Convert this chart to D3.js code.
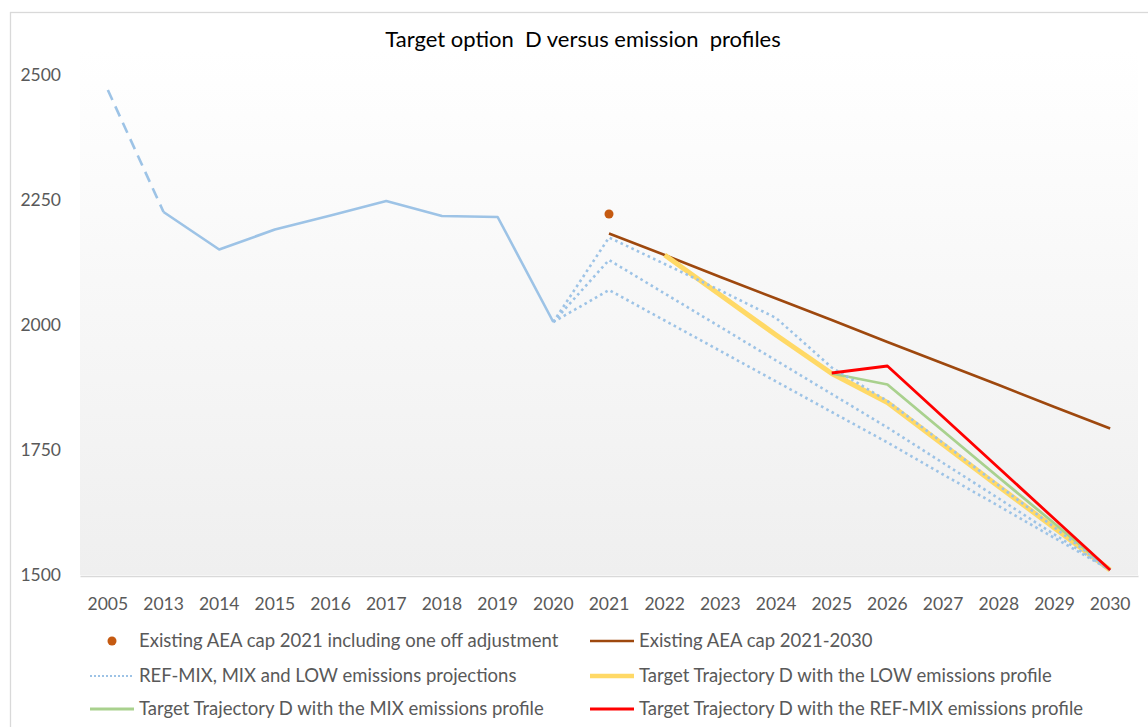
<!DOCTYPE html>
<html>
<head>
<meta charset="utf-8">
<script src="https://cdn.jsdelivr.net/npm/d3@7"></script>
<style>
  body { margin: 0; background: #fff; }
  svg text { font-family: Lato, 'Open Sans', sans-serif; }
</style>
</head>
<body>
<div class="container"></div>
<script>
const categories = ['2005', '2013', '2014', '2015', '2016', '2017', '2018', '2019', '2020',
  '2021', '2022', '2023', '2024', '2025', '2026', '2027', '2028', '2029', '2030'];
const yTicks = [1500, 1750, 2000, 2250, 2500];

// historical emissions (2005 joined to 2013 with a dashed segment)
const historical = [2470, 2226, 2151, 2191, 2219, 2248, 2218, 2216, 2006,
  null, null, null, null, null, null, null, null, null, null];
// projections
const refMix = [null, null, null, null, null, null, null, null, 2006,
  2175, 2122, 2069, 2014, 1915, 1848, 1764, 1679, 1595, 1510];
const mix = [null, null, null, null, null, null, null, null, 2006,
  2130, 2063, 1996, 1929, 1862, 1795, 1724, 1653, 1581, 1510];
const low = [null, null, null, null, null, null, null, null, 2006,
  2070, 2009, 1948, 1887, 1826, 1765, 1701, 1638, 1574, 1510];
const aeaAdj = [null, null, null, null, null, null, null, null, null,
  2222, null, null, null, null, null, null, null, null, null];
const aeaCap = [null, null, null, null, null, null, null, null, null,
  2183, 2140, 2096, 2053, 2010, 1966, 1923, 1880, 1836, 1793];
const trajLow = [null, null, null, null, null, null, null, null, null,
  null, 2140, 2060, 1980, 1903, 1845, 1761, 1677, 1594, 1510];
const trajMix = [null, null, null, null, null, null, null, null, null,
  null, null, null, null, 1903, 1881, 1788, 1695, 1603, 1510];
const trajRefMix = [null, null, null, null, null, null, null, null, null,
  null, null, null, null, 1904, 1918, 1816, 1714, 1612, 1510];

const width = 1148;
const height = 727;
const plot = { left: 80, right: 1138, top: 50, bottom: 575 };

const svg = d3.select('.container')
  .append('svg')
  .attr('width', width)
  .attr('height', height);

// chart border
svg.append('rect')
  .attr('x', 10.5).attr('y', 12.5)
  .attr('width', 1200).attr('height', 800)
  .attr('fill', '#fff')
  .attr('stroke', '#d9d9d9')
  .attr('stroke-width', 1.3);

// plot area gradient
const grad = svg.append('defs').append('linearGradient')
  .attr('id', 'plotFill')
  .attr('x1', 0).attr('y1', 0).attr('x2', 0).attr('y2', 1);
grad.append('stop').attr('offset', '0%').attr('stop-color', '#ffffff');
grad.append('stop').attr('offset', '100%').attr('stop-color', '#efefef');

svg.append('rect')
  .attr('x', plot.left).attr('y', plot.top)
  .attr('width', plot.right - plot.left)
  .attr('height', plot.bottom - plot.top)
  .attr('fill', 'url(#plotFill)');

// scales
const xScale = d3.scaleBand()
  .domain(categories)
  .range([plot.left, plot.right]);
const xc = c => xScale(c) + xScale.bandwidth() / 2;

const yScale = d3.scaleLinear()
  .domain([1500, 2500])
  .range([575, 75]);

// axes
const xAxis = svg.append('g')
  .attr('transform', `translate(0, ${plot.bottom + 1})`)
  .call(d3.axisBottom(xScale).tickSize(0).tickSizeOuter(0).tickPadding(22));
xAxis.select('.domain').attr('stroke', '#d9d9d9').attr('stroke-width', 1.5);
xAxis.selectAll('text').attr('font-size', 17.5).attr('fill', '#595959');

const yAxis = svg.append('g')
  .attr('transform', `translate(${plot.left}, 0)`)
  .call(d3.axisLeft(yScale).tickValues(yTicks).tickSize(0).tickPadding(19)
    .tickFormat(d3.format('d')));
yAxis.select('.domain').remove();
yAxis.selectAll('text').attr('font-size', 17.5).attr('fill', '#595959');

// title
svg.append('text')
  .attr('x', 583).attr('y', 47)
  .attr('text-anchor', 'middle')
  .attr('font-size', 22)
  .attr('fill', '#000')
  .style('white-space', 'pre')
  .text('Target option  D versus emission  profiles');

const line = d3.line()
  .defined(d => d.v !== null)
  .x(d => xc(d.c))
  .y(d => yScale(d.v));
const toPts = arr => arr.map((v, i) => ({ c: categories[i], v: v }));

function drawLine(arr, color, w, dash) {
  svg.append('path')
    .datum(toPts(arr))
    .attr('d', line)
    .attr('fill', 'none')
    .attr('stroke', color)
    .attr('stroke-width', w)
    .attr('stroke-linejoin', 'round')
    .attr('stroke-dasharray', dash || null);
}

const blue = '#9dc3e6';
drawLine(aeaCap, '#9e480e', 2.6);
drawLine(trajLow, '#ffd966', 5);
drawLine(trajMix, '#a9d18e', 2.8);
drawLine(refMix, blue, 2.6, '2.6 3.4');
drawLine(mix, blue, 2.6, '2.6 3.4');
drawLine(low, blue, 2.6, '2.6 3.4');
drawLine(historical.map((v, i) => i <= 1 ? v : null), blue, 2.6, '11 7');
drawLine(historical.map((v, i) => i >= 1 ? v : null), blue, 2.6);
drawLine(trajRefMix, '#ff0000', 2.8);

svg.selectAll('circle.adj')
  .data(toPts(aeaAdj).filter(d => d.v !== null))
  .enter()
  .append('circle')
  .attr('class', 'adj')
  .attr('cx', d => xc(d.c))
  .attr('cy', d => yScale(d.v))
  .attr('r', 4.5)
  .attr('fill', '#c55a11');

// legend
const legendItems = [
  { label: 'Existing AEA cap 2021 including one off adjustment', type: 'dot', color: '#c55a11', x: 90, y: 641 },
  { label: 'Existing AEA cap 2021-2030', type: 'line', color: '#9e480e', w: 2.6, x: 590, y: 641 },
  { label: 'REF-MIX, MIX and LOW emissions projections', type: 'line', color: blue, w: 2, dash: '2 2', x: 90, y: 676 },
  { label: 'Target Trajectory D with the LOW emissions profile', type: 'line', color: '#ffd966', w: 4.5, x: 590, y: 676 },
  { label: 'Target Trajectory D with the MIX emissions profile', type: 'line', color: '#a9d18e', w: 2.8, x: 90, y: 709 },
  { label: 'Target Trajectory D with the REF-MIX emissions profile', type: 'line', color: '#ff0000', w: 2.8, x: 590, y: 709 }
];

const legend = svg.append('g').attr('id', 'legend');
legendItems.forEach(item => {
  const g = legend.append('g').attr('transform', `translate(${item.x}, ${item.y})`);
  if (item.type === 'dot') {
    g.append('circle').attr('cx', 22).attr('cy', 0).attr('r', 4.5).attr('fill', item.color);
  } else {
    g.append('line')
      .attr('x1', 0).attr('x2', 44)
      .attr('stroke', item.color)
      .attr('stroke-width', item.w)
      .attr('stroke-dasharray', item.dash || null);
  }
  g.append('text')
    .attr('x', 49).attr('y', 0)
    .attr('dy', '0.35em')
    .attr('font-size', 18.5)
    .attr('fill', '#595959')
    .text(item.label);
});
</script>
</body>
</html>
